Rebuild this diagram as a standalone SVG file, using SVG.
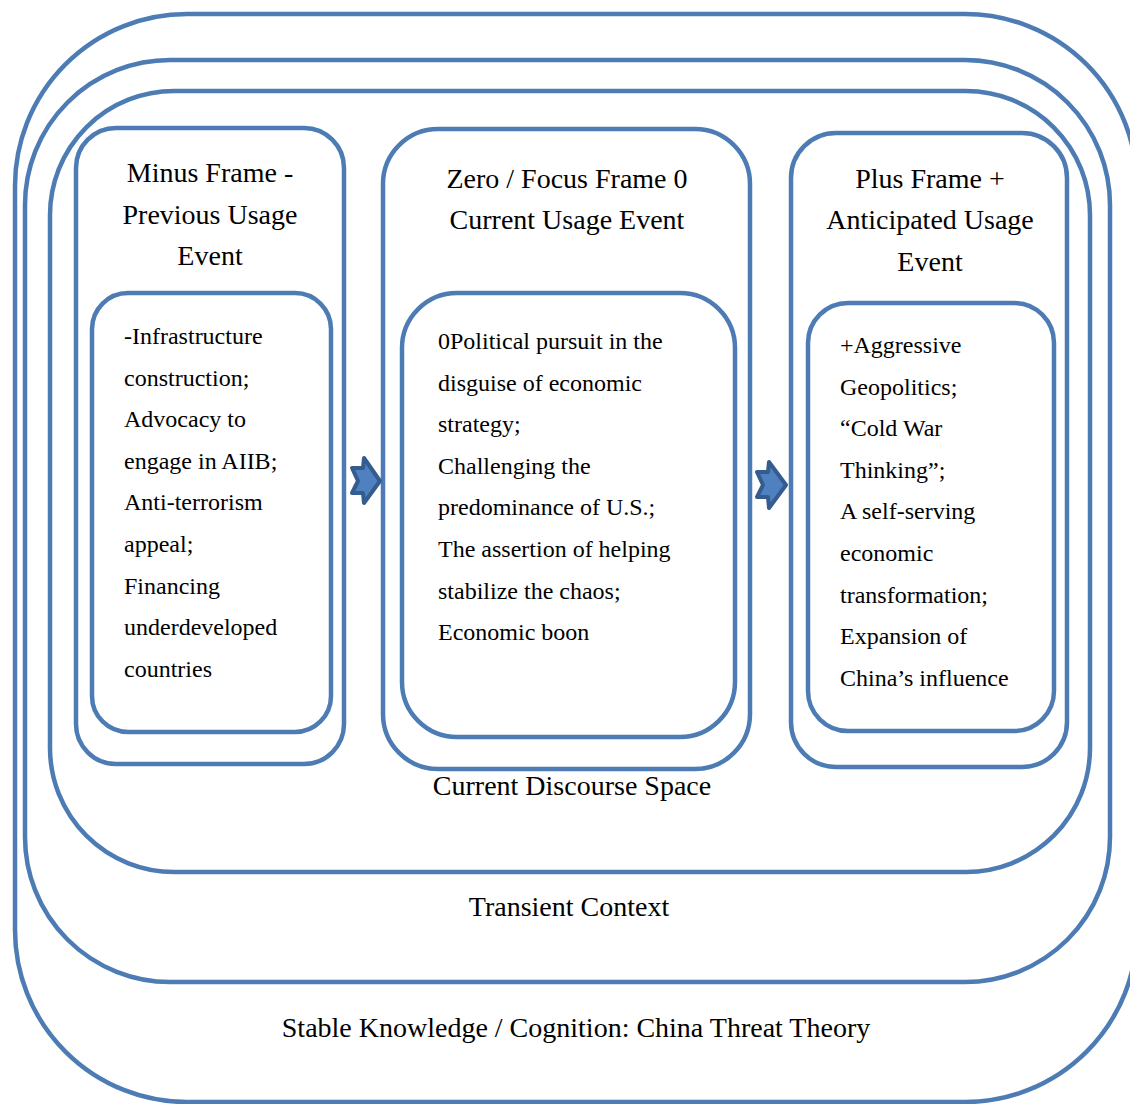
<svg xmlns="http://www.w3.org/2000/svg" width="1130" height="1104" viewBox="0 0 1130 1104">
<style>
.frame{fill:none;stroke:#4D7CB4;stroke-width:4.5}
.h{font-family:"Liberation Serif","Times New Roman",serif;font-size:28px;fill:#000;text-anchor:middle}
.b{font-family:"Liberation Serif","Times New Roman",serif;font-size:24px;fill:#000}
.arrow{fill:#4F80BF;stroke:#355C8E;stroke-width:4;stroke-linejoin:round}
</style>
<rect width="1130" height="1104" fill="#fff"/>
<g id="stable-knowledge">
<rect class="frame" x="15" y="14" width="1122" height="1088" rx="172" ry="172"/>
<text class="h" x="576" y="1037">Stable Knowledge / Cognition: China Threat Theory</text>
</g>
<g id="transient-context">
<rect class="frame" x="25" y="60" width="1085" height="922" rx="145" ry="145"/>
<text class="h" x="569" y="916">Transient Context</text>
</g>
<g id="current-discourse-space">
<rect class="frame" x="50" y="91" width="1040" height="781" rx="124" ry="124"/>
<text class="h" x="572" y="795">Current Discourse Space</text>
</g>
<g id="minus-frame">
<rect class="frame" x="76" y="128" width="268" height="636" rx="40" ry="40"/>
<text class="h" x="210"><tspan x="210" y="182">Minus Frame -</tspan><tspan x="210" y="224">Previous Usage</tspan><tspan x="210" y="265">Event</tspan></text>
</g>
<g id="minus-content">
<rect class="frame" x="92" y="293" width="239" height="439" rx="36" ry="36"/>
<text class="b"><tspan x="124" y="344">-Infrastructure</tspan><tspan x="124" y="385.6">construction;</tspan><tspan x="124" y="427.2">Advocacy to</tspan><tspan x="124" y="468.8">engage in AIIB;</tspan><tspan x="124" y="510.4">Anti-terrorism</tspan><tspan x="124" y="552">appeal;</tspan><tspan x="124" y="593.6">Financing</tspan><tspan x="124" y="635.2">underdeveloped</tspan><tspan x="124" y="676.8">countries</tspan></text>
</g>
<g id="zero-frame">
<rect class="frame" x="383" y="129" width="367" height="640" rx="55" ry="55"/>
<text class="h"><tspan x="567" y="188">Zero / Focus Frame 0</tspan><tspan x="567" y="229">Current Usage Event</tspan></text>
</g>
<g id="zero-content">
<rect class="frame" x="402" y="293" width="333" height="444" rx="55" ry="55"/>
<text class="b"><tspan x="438" y="349">0Political pursuit in the</tspan><tspan x="438" y="390.6">disguise of economic</tspan><tspan x="438" y="432.2">strategy;</tspan><tspan x="438" y="473.8">Challenging the</tspan><tspan x="438" y="515.4">predominance of U.S.;</tspan><tspan x="438" y="557">The assertion of helping</tspan><tspan x="438" y="598.6">stabilize the chaos;</tspan><tspan x="438" y="640.2">Economic boon</tspan></text>
</g>
<g id="plus-frame">
<rect class="frame" x="791" y="133" width="276" height="634" rx="45" ry="45"/>
<text class="h"><tspan x="930" y="188">Plus Frame +</tspan><tspan x="930" y="229">Anticipated Usage</tspan><tspan x="930" y="271">Event</tspan></text>
</g>
<g id="plus-content">
<rect class="frame" x="808" y="303" width="246" height="428" rx="40" ry="40"/>
<text class="b"><tspan x="840" y="353">+Aggressive</tspan><tspan x="840" y="394.6">Geopolitics;</tspan><tspan x="840" y="436.2">“Cold War</tspan><tspan x="840" y="477.8">Thinking”;</tspan><tspan x="840" y="519.4">A self-serving</tspan><tspan x="840" y="561">economic</tspan><tspan x="840" y="602.6">transformation;</tspan><tspan x="840" y="644.2">Expansion of</tspan><tspan x="840" y="685.8">China’s influence</tspan></text>
</g>
<g id="connectors">
<polygon class="arrow" points="352,468 363,468 364,458 380,481 364,503 363,493 352,493 358,481"/>
<polygon class="arrow" points="757,472 768,472 769,462 786,485 769,508 768,497 757,497 763,485"/>
</g>
</svg>
